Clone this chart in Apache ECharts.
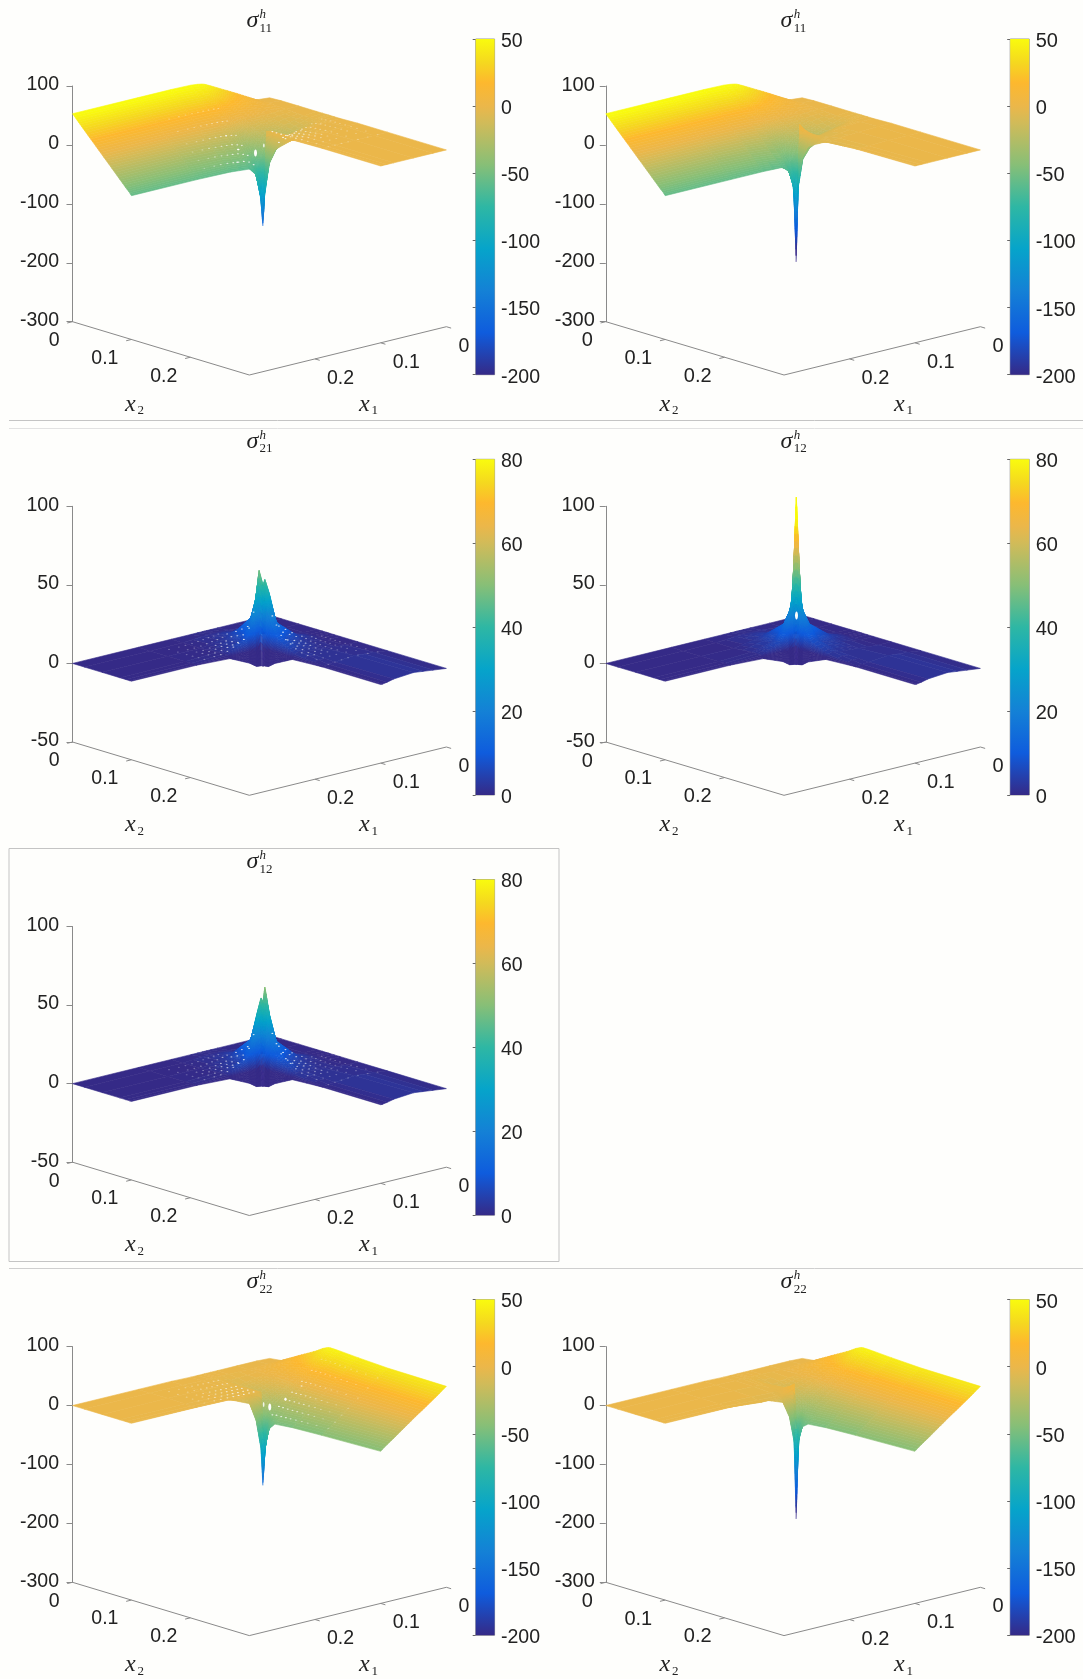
<!DOCTYPE html>
<html><head><meta charset="utf-8">
<style>html,body{margin:0;padding:0;background:#fff}#c{width:1083px;height:1679px}</style>
<script src="https://cdn.jsdelivr.net/npm/echarts@6/dist/echarts.min.js"></script>
</head><body><div id="c"></div>
<script>
const _ = null;
// grid lines of the surface, shared by x1 (columns) and x2 (rows)
const gridLines = [0,.02,.05,.08,.09,.097,.1,.103,.11,.12,.15,.2,.3];
const floorMax = 0.3;
const floorTicks = [0,0.1,0.2];
const rangeStress = {zTicks:[-300,100,100], bar:[-200,50,50]};
const rangeShear = {zTicks:[-50,100,50], bar:[0,80,20]};

const sigma11Left = [
[-2,0,19,37,43,47,48.5,49.5,51,52.3,53,53,53],
[-1,1,10,21,25,27,28,28.5,29.5,30,31,31,31],
[-1,-1,-2,-3,-4,-5,-5,-5,-4,-3,-2,-1.5,-1.5],
[-1,-3,-11,-24,-34,-45,-47,-48,-44,-40,-36,-34,-34],
[-1,-3,-14,-32,-46,-62,-68,-62,-54,-50,-46,-45,-45],
[-1,-4,-16,-36,-55,-85,-100,-88,-66,-58,-53,-52,-52],
[-1,-4,-17,-38,-58,-105,-162,-115,-73,-60,-57,-56,-56],
[-1,-3,-15,-28,-3,-2,-110,_,_,_,_,_,_],
[-1,-2,-8,-15,-3,-2,-56,_,_,_,_,_,_],
[-1,-1,-4,-8,-3,-2,-27,_,_,_,_,_,_],
[0,0,-1,-1,-2,-2,-1,_,_,_,_,_,_],
[0,0,0,0,0,0,0,_,_,_,_,_,_],
[0,0,0,0,0,0,0,_,_,_,_,_,_]];
const sigma11Right = [
[-2,0,19,37,43,47,48.5,49.5,51,52.3,53,53,53],
[-1,1,10,21,25,27,28,28.5,29.5,30,31,31,31],
[-1,-1,-2,-3,-4,-4,-4,-4,-4,-3,-2,-1.5,-1.5],
[-1,-3,-11,-24,-33,-40,-43,-44,-42,-39,-36,-34,-34],
[-1,-3,-14,-30,-42,-52,-58,-58,-52,-49,-46,-45,-45],
[-1,-4,-16,-35,-50,-72,-90,-85,-64,-58,-53,-52,-52],
[-1,-4,-17,-36,-52,-98,-223,-100,-68,-57,-56,-56,-56],
[-1,-3,-14,-26,-2,10,-89,_,_,_,_,_,_],
[-1,-2,-7,-14,-3,3,-44,_,_,_,_,_,_],
[-1,-1,-3,-8,-5,-1,-21,_,_,_,_,_,_],
[0,0,-1,-3,-5,-6,-4,_,_,_,_,_,_],
[0,0,0,-1,-2,-2,-1,_,_,_,_,_,_],
[0,0,0,0,0,0,0,_,_,_,_,_,_]];
const sigma21Left = [
[0,0,0,0,0,0,0,0,0,0,0,0,0],
[0,0,0,1,1,1,1,1,1,1,0,0,0],
[0,0,1,2,3,5,4,5,3,2,0,0,0],
[0,0,2,6,10,15,18,14,9,4,1,0,0],
[0,0,3,9,22,28,34,26,15,7,1,0,0],
[0,0,4,13,32,40,45,50,19,8,1,0,0],
[0,0,4,15,34,44,-11,-10.5,-10,-7,-1,0,0],
[0,0,4,14,22,24,-10.5,_,_,_,_,_,_],
[0,0,3,11,17,16,-10,_,_,_,_,_,_],
[0,0,2,6,10,9,-7,_,_,_,_,_,_],
[0,0,1,2,3,2,-1,_,_,_,_,_,_],
[0,1,2,1,.5,0,0,_,_,_,_,_,_],
[0,1,2.5,1.5,.5,0,0,_,_,_,_,_,_]];
const sigma12Right = [
[0,0,0,0,0,0,0,0,0,0,0,0,0],
[0,0,0,1,1,1,1,1,1,1,0,0,0],
[0,0,1,2,3,4,4,4,3,2,0,0,0],
[0,0,2,6,9,12,14,12,8,4,1,0,0],
[0,0,3,8,16,21,24,21,13,6,1,0,0],
[0,0,4,12,24,96,40,24,13,6,1,0,0],
[0,0,4,14,24,40,-10,-9.5,-9,-6,-1,0,0],
[0,0,4,12,20,24,-9.5,_,_,_,_,_,_],
[0,0,3,9,14,13,-9,_,_,_,_,_,_],
[0,0,2,5,8,7,-6,_,_,_,_,_,_],
[0,0,1,2,3,2,-1,_,_,_,_,_,_],
[0,1,2,1,.5,0,0,_,_,_,_,_,_],
[0,1,2.5,1.5,.5,0,0,_,_,_,_,_,_]];
const sigma12Lower = [
[0,0,0,0,0,0,0,0,0,0,0,0,0],
[0,0,0,1,1,1,1,1,1,1,0,0,0],
[0,0,1,2,4,4,5,4,3,2,0,0,0],
[0,0,2,6,11,15,17,14,9,4,1,0,0],
[0,0,3,10,22,26,34,24,15,7,1,0,0],
[0,0,4,13,30,42,45,30,18,8,1,0,0],
[0,0,4,16,34,52,-11,-10.5,-10,-7,-1,0,0],
[0,0,4,14,24,28,-10.5,_,_,_,_,_,_],
[0,0,3,11,18,16,-10,_,_,_,_,_,_],
[0,0,2,6,11,9,-7,_,_,_,_,_,_],
[0,0,1,2,3,2,-1,_,_,_,_,_,_],
[0,1,2,1,.5,0,0,_,_,_,_,_,_],
[0,1,2.5,1.5,.5,0,0,_,_,_,_,_,_]];
const sigma22Left = [
[-2,-1,-1,-1,-1,-1,-1,-1,-1,-1,0,0,0],
[.5,0,-1,-1,-1,-1,-1,-1,-1,-1,0,0,0],
[18,11,0,-5,-7,-9,-3,-3,-2,-2,-1,0,0],
[35,20,-1,-18,-24,-30,-3,-3,-3,-3,-2,0,0],
[42,24,-1,-24,-33,-42,-3,-3,-3,-3,-2,-1,0],
[45.5,27,-2,-29,-40,-65,-3,-3,-3,-3,-2,-1,0],
[46.5,27,-2,-31,-42,-105,-160,-95,-48,-16,-1,0,0],
[47,27,-2,-30,-42,-72,-100,_,_,_,_,_,_],
[47,28,-2,-30,-40,-52,-62,_,_,_,_,_,_],
[46.5,28,-1,-30,-40,-46,-50,_,_,_,_,_,_],
[44.5,26,-1,-29,-38,-44,-47,_,_,_,_,_,_],
[42,25,-1,-28,-36,-42,-45,_,_,_,_,_,_],
[41,24,0,-25,-33,-39,-42,_,_,_,_,_,_]];
const sigma22Right = [
[-2,-1,-1,-1,-1,-1,-1,-1,-1,-1,0,0,0],
[.5,0,-1,-1,-1,-1,-1,-1,-1,-1,0,0,0],
[18,11,0,-4,-6,-8,-3,-3,-2,-2,-1,0,0],
[35,20,-1,-16,-22,-27,0,-1,-2,-4,-2,0,0],
[42,24,-1,-23,-31,-38,5,3,-1,-6,-5,-1,0],
[45.5,27,-2,-28,-38,-55,11,9,2,-5,-6,-1,0],
[46.5,27,-2,-30,-41,-90,-217,-85,-42,-14,-1,0,0],
[47,27,-2,-30,-41,-62,-88,_,_,_,_,_,_],
[47,28,-2,-30,-40,-50,-58,_,_,_,_,_,_],
[46.5,28,-1,-30,-40,-46,-50,_,_,_,_,_,_],
[44.5,26,-1,-29,-38,-44,-47,_,_,_,_,_,_],
[42,25,-1,-28,-36,-42,-45,_,_,_,_,_,_],
[41,24,0,-25,-33,-39,-42,_,_,_,_,_,_]];

// small mesh gaps seen on the left-hand panels
const gapX1Arm = [.105,.112,.12,.128,.136,.145,.155,.165,.18];
const gapX2Arm = [.03,.045,.06,.07,.08,.09];
const gapX1Leg = [.015,.03,.045,.06,.07,.08,.09];
const gapX2Leg = [.105,.112,.12,.128,.136,.145,.155,.165,.18,.2];
// larger holes near the corner: x1, x2, width, height, optional height value
const holesSigma11 = [[.095,.082,3,7],[.085,.085,1.6,4],[.115,.075,2.5,1.5],[.13,.09,2,1.5],[.12,.06,2,1.5]];
const holesSigma22 = [[.085,.095,3,7],[.088,.088,1.6,5],[.07,.105,2.5,3],[.05,.11,2,1.5]];
const holesSigma12 = [[.094,.094,3,8,20]];

// colormap
const cmapPos = [0,.125,.25,.375,.5,.625,.75,.8,.87,.93,1];
const cmapHex = ['#352a87','#0f5cdd','#1481d6','#06a4ca','#2eb7a4','#87bf77','#d1bb59','#ebb74a','#fdb82e','#f5d81f','#f9fb0e'];
const cmapRgb = cmapHex.map(h=>[1,3,5].map(i=>parseInt(h.substr(i,2),16)));
function colorAt(t){
  t=Math.max(0,Math.min(1,t));
  let k=0; while(k<cmapPos.length-2 && t>cmapPos[k+1]) k++;
  const f=(t-cmapPos[k])/(cmapPos[k+1]-cmapPos[k]);
  const a=cmapRgb[k],b=cmapRgb[k+1];
  return 'rgb('+a.map((v,i)=>Math.round(v+(b[i]-v)*f)).join(',')+')';
}

// layout
const bg='#fefefc', ink='#222222', axisGrey='#8a8a8a';
const rowY=[0,420.3,840.5,1260.6];
const cols=[
 {xL:72.5,xB:249.3,xR:446.4,barL:475.7,barW:18.9,fs:19.5,zMargin:13.5,barM:6.4,title:246.4,x2lab:125,x1lab:359},
 {xL:605.8,xB:784,xR:980.4,barL:1010.2,barW:19.1,fs:20,zMargin:11,barM:6.4,title:780.6,x2lab:659.5,x1lab:893.9}
];
const panels=[
 {col:0,row:0,m:sigma11Left,r:rangeStress,sub:'11',gaps:true,holes:holesSigma11},
 {col:1,row:0,m:sigma11Right,r:rangeStress,sub:'11'},
 {col:0,row:1,m:sigma21Left,r:rangeShear,sub:'21',gaps:true},
 {col:1,row:1,m:sigma12Right,r:rangeShear,sub:'12',holes:holesSigma12},
 {col:0,row:2,m:sigma12Lower,r:rangeShear,sub:'12',gaps:true},
 {col:0,row:3,m:sigma22Left,r:rangeStress,sub:'22',gaps:true,holes:holesSigma22},
 {col:1,row:3,m:sigma22Right,r:rangeStress,sub:'22'}
];
const gTop=86,gH=235.7,barTop=39,barH=335.7;
const yBackDrop=48.3,yRightDrop=53.3;

const grids=[],xAxes=[],yAxes=[],series=[],graphics=[];

function panelProjector(p,api){
  const c=cols[p.col], w=c.xR-c.xL;
  const pp=(c.xR-c.xB)/w, q=(c.xB-c.xL)/w;
  const [zMin,zMax]=p.r.zTicks;
  const unit=(zMax-zMin)/gH;
  return (x1,x2,z)=>{
    const a=x1/floorMax,b=x2/floorMax;
    const u=pp*(1-a)+q*b;
    const dy=(a-1)*yBackDrop+b*yRightDrop;
    return api.coord([u,z-dy*unit]);
  };
}
function zLookup(m,x1,x2){
  const find=v=>{let k=0;while(k<gridLines.length-2&&v>gridLines[k+1])k++;return k;};
  const j=find(x1),i=find(x2);
  const fx=(x1-gridLines[j])/(gridLines[j+1]-gridLines[j]);
  const fy=(x2-gridLines[i])/(gridLines[i+1]-gridLines[i]);
  const g=(a,b)=>m[a][b]==null?m[i][j]:m[a][b];
  return (g(i,j)*(1-fx)+g(i,j+1)*fx)*(1-fy)+(g(i+1,j)*(1-fx)+g(i+1,j+1)*fx)*fy;
}

panels.forEach((p,idx)=>{
  const c=cols[p.col], off=rowY[p.row];
  const [zMin,zMax,zInt]=p.r.zTicks, [bMin,bMax,bInt]=p.r.bar;
  const colorOf=z=>colorAt((z-bMin)/(bMax-bMin));
  grids.push({left:c.xL,top:gTop+off,width:c.xR-c.xL,height:gH,containLabel:false});
  xAxes.push({gridIndex:grids.length-1,type:'value',min:0,max:1,show:false});
  yAxes.push({gridIndex:grids.length-1,type:'value',min:zMin,max:zMax,interval:zInt,position:'left',
    axisLine:{show:true,onZero:false,lineStyle:{color:axisGrey,width:1}},
    axisTick:{show:true,length:6,lineStyle:{color:axisGrey,width:1}},
    splitLine:{show:false},
    axisLabel:{margin:c.zMargin,showMinLabel:true,showMaxLabel:true,formatter:'{a|{value}}',
      rich:{a:{color:ink,fontFamily:'Liberation Sans',fontSize:c.fs,padding:[0,0,2,0]}}}});
  const gi=grids.length-1;
  // floor axes
  const floorData=[];
  floorTicks.forEach(v=>{floorData.push(['x1',v]);floorData.push(['x2',v]);});
  series.push({type:'custom',coordinateSystem:'cartesian2d',xAxisIndex:gi,yAxisIndex:gi,silent:true,z:2,
    data:[['line',0]].concat(floorData),
    encode:{x:1,y:1},
    renderItem(params,api){
      const P=panelProjector(p,api);
      const line=(a,b)=>({type:'line',shape:{x1:a[0],y1:a[1],x2:b[0],y2:b[1]},style:{stroke:axisGrey,lineWidth:1}});
      const d=floorData[params.dataIndex-1];
      if(params.dataIndex===0){
        const L=P(floorMax,0,zMin),B=P(floorMax,floorMax,zMin),R=P(0,floorMax,zMin);
        return {type:'group',children:[line(L,B),line(B,R)]};
      }
      const font=c.fs+'px "Liberation Sans"';
      if(d[0]==='x1'){
        const a=P(d[1],floorMax,zMin),b=P(d[1],floorMax+.008,zMin);
        return {type:'group',children:[line(a,b),{type:'text',style:{text:String(d[1]),x:a[0]+12,y:a[1]+19.5,font,fill:ink,align:'left',verticalAlign:'middle'}}]};
      }
      const a=P(floorMax,d[1],zMin),b=P(floorMax+.008,d[1],zMin);
      return {type:'group',children:[line(a,b),{type:'text',style:{text:String(d[1]),x:a[0]-13,y:a[1]+19,font,fill:ink,align:'right',verticalAlign:'middle'}}]};
    }});
  // surface cells, back to front
  const cells=[];
  for(let i=0;i<gridLines.length-1;i++)for(let j=0;j<gridLines.length-1;j++){
    if(p.m[i][j]==null||p.m[i][j+1]==null||p.m[i+1][j]==null||p.m[i+1][j+1]==null)continue;
    cells.push([i,j]);
  }
  const span=bMax-bMin;
  series.push({type:'custom',coordinateSystem:'cartesian2d',xAxisIndex:gi,yAxisIndex:gi,silent:true,z:3,
    data:cells,encode:{x:0,y:1},
    renderItem(params,api){
      const P=panelProjector(p,api);
      const [i,j]=cells[params.dataIndex], m=p.m;
      const a=m[i][j],b=m[i][j+1],e=m[i+1][j],f=m[i+1][j+1];
      const x0=gridLines[j],x1=gridLines[j+1],y0=gridLines[i],y1=gridLines[i+1];
      const seg=d=>Math.max(1,Math.min(12,Math.ceil(d/span*80)));
      const dc=Math.max(Math.abs(a-b),Math.abs(e-f)), dr=Math.max(Math.abs(a-e),Math.abs(b-f));
      const nc=seg(dc), nr=seg(dr);
      const narrow=(x1-x0)<.004&&(y1-y0)<.004;
      const lw=narrow?.15:.6;
      const ch=[];
      const zAt=(s,t)=>(a*(1-s)+b*s)*(1-t)+(e*(1-s)+f*s)*t;
      const pt=(s,t)=>P(x0+(x1-x0)*s,y0+(y1-y0)*t,zAt(s,t));
      for(let r=0;r<nr;r++)for(let k=0;k<nc;k++){
        const s0=k/nc,s1=(k+1)/nc,t0=r/nr,t1=(r+1)/nr;
        const col=colorOf(zAt((s0+s1)/2,(t0+t1)/2));
        ch.push({type:'polygon',shape:{points:[pt(s0,t0),pt(s1,t0),pt(s1,t1),pt(s0,t1)]},
          style:{fill:col,stroke:col,lineWidth:lw,lineJoin:'round'}});
      }
      return {type:'group',children:ch};
    }});
  // mesh gaps
  const gaps=[];
  if(p.gaps){
    gapX2Arm.forEach(y=>gapX1Arm.forEach(x=>gaps.push([x,y,2,1.2])));
    gapX1Leg.forEach(x=>gapX2Leg.forEach(y=>gaps.push([x,y,2,1.2])));
  }
  (p.holes||[]).forEach(h=>gaps.push(h));
  if(gaps.length){
    series.push({type:'custom',coordinateSystem:'cartesian2d',xAxisIndex:gi,yAxisIndex:gi,silent:true,z:4,
      data:gaps,encode:{x:0,y:1},
      renderItem(params,api){
        const P=panelProjector(p,api);
        const [x,y,w,h,zFix]=gaps[params.dataIndex];
        const q=P(x,y,zFix!=null?zFix:zLookup(p.m,x,y));
        const dist=Math.hypot(x-.1,y-.1);
        const op=w>2?1:Math.max(.3,Math.min(.85,1.05-dist/.11));
        return {type:'ellipse',shape:{cx:q[0],cy:q[1],rx:w/2,ry:h/2},style:{fill:'rgba(254,254,252,'+op+')'}};
      }});
  }
  // colorbar
  grids.push({left:c.barL,top:barTop+off,width:c.barW,height:barH,show:true,backgroundColor:'transparent',borderColor:'#9a9a9a',borderWidth:1});
  const bi=grids.length-1;
  xAxes.push({gridIndex:bi,type:'value',min:0,max:1,show:false});
  yAxes.push({gridIndex:bi,type:'value',min:bMin,max:bMax,interval:bInt,position:'right',
    axisLine:{show:false},axisTick:{show:true,inside:true,length:3,lineStyle:{color:'#666',width:1}},splitLine:{show:false},
    axisLabel:{margin:c.barM,showMinLabel:true,showMaxLabel:true,formatter:'{a|{value}}',
      rich:{a:{color:ink,fontFamily:'Liberation Sans',fontSize:c.fs,padding:[5,0,0,0]}}}});
  series.push({type:'custom',coordinateSystem:'cartesian2d',xAxisIndex:bi,yAxisIndex:bi,silent:true,z:1,
    data:[[0,bMin]],encode:{x:0,y:1},
    renderItem(params,api){
      const A=api.coord([0,bMin]),B=api.coord([1,bMax]);
      const stops=cmapPos.map((o,i)=>({offset:o,color:cmapHex[i]}));
      return {type:'rect',shape:{x:A[0],y:B[1],width:B[0]-A[0],height:A[1]-B[1]},
        style:{fill:new echarts.graphic.LinearGradient(0,1,0,0,stops)}};
    }});
  // title and axis names
  const tx=(text,x,y,size,style,family)=>graphics.push({type:'text',silent:true,x,y:y+off,style:{text,font:(style?style+' ':'')+size+'px '+family,fill:ink,verticalAlign:'middle',align:'left'}});
  const serif='"Liberation Serif"';
  tx('σ',c.title,21,24,'italic',serif);
  tx('h',c.title+13.2,15,13,'italic',serif);
  tx(p.sub,c.title+13.2,28.7,13,'',serif);
  tx('x',c.x2lab,404.3,24,'italic',serif);
  tx('2',c.x2lab+12.5,411,13,'',serif);
  tx('x',c.x1lab,404.3,24,'italic',serif);
  tx('1',c.x1lab+12.5,411,13,'',serif);
});

// panel frames
const rule=(x1,y1,x2,y2,color)=>graphics.push({type:'line',silent:true,shape:{x1,y1,x2,y2},style:{stroke:color,lineWidth:1}});
rule(9,420.5,1083,420.5,'#c4c4c4');
rule(9,428.5,1083,428.5,'#e2e2e2');
rule(9,848.5,559,848.5,'#c4c4c4');
rule(9,848.5,9,1261.5,'#c4c4c4');
rule(559,848.5,559,1261.5,'#c4c4c4');
rule(9,1261.5,559,1261.5,'#c4c4c4');
rule(9,1268.5,1083,1268.5,'#cfcfcf');

const chart=echarts.init(document.getElementById('c'),null,{renderer:'canvas',width:1083,height:1679});
chart.setOption({animation:false,backgroundColor:bg,grid:grids,xAxis:xAxes,yAxis:yAxes,series,graphic:{elements:graphics}});
</script></body></html>
